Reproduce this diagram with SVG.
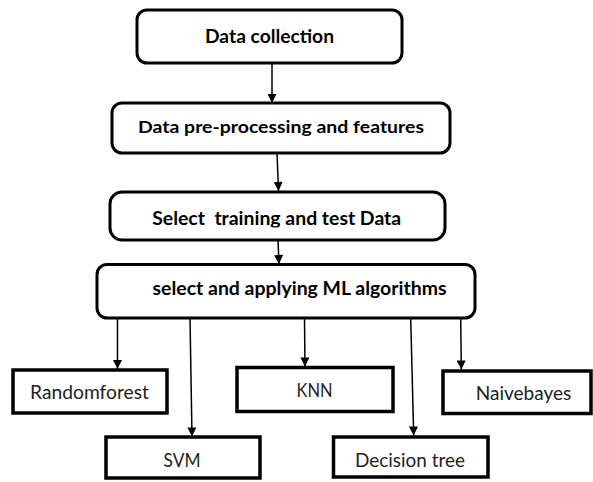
<svg xmlns="http://www.w3.org/2000/svg" width="593" height="482" viewBox="0 0 593 482">
<style>
.rbox{fill:#fff;stroke:#000;stroke-width:3}
.sbox{fill:#fff;stroke:#000;stroke-width:3.5}
.tb{font-family:Lato,"Liberation Sans",sans-serif;font-weight:bold;fill:#000;text-anchor:middle}
.tr{font-family:Lato,"Liberation Sans",sans-serif;fill:#222;text-anchor:middle;font-size:18.5px}
.conn line{stroke:#000;stroke-width:1.5;marker-end:url(#ah)}
</style>
<defs>
<marker id="ah" viewBox="0 0 10 10" refX="10" refY="5" markerWidth="10" markerHeight="9" markerUnits="userSpaceOnUse" orient="auto">
<path d="M0,0 L10,5 L0,10 Z" fill="#000"/>
</marker>
<clipPath id="clip3"><rect x="100" y="180" width="360" height="47.5"/></clipPath>
</defs>
<rect width="593" height="482" fill="#fff"/>
<g class="conn">
<line x1="272" y1="63" x2="272" y2="103"/>
<line x1="277" y1="153" x2="278.5" y2="191"/>
<line x1="278" y1="240" x2="279" y2="264"/>
<line x1="117.5" y1="318" x2="117.5" y2="369"/>
<line x1="190" y1="318" x2="192" y2="436.5"/>
<line x1="304.5" y1="318" x2="305" y2="366.5"/>
<line x1="410.7" y1="318" x2="413.7" y2="435.5"/>
<line x1="460.7" y1="318" x2="461.3" y2="369.5"/>
</g>
<g id="data-collection">
<rect class="rbox" x="137" y="10" width="265" height="53" rx="10"/>
<text class="tb" x="269.5" y="43" font-size="19" textLength="129" lengthAdjust="spacingAndGlyphs">Data collection</text>
</g>
<g id="preprocessing">
<rect class="rbox" x="112" y="103" width="338" height="50" rx="10"/>
<text class="tb" x="281" y="133" font-size="17.5" textLength="286" lengthAdjust="spacingAndGlyphs">Data pre-processing and features</text>
</g>
<g id="select-data">
<rect class="rbox" x="110" y="192" width="335" height="48" rx="12"/>
<text class="tb" x="276.7" y="225" font-size="18" textLength="249" lengthAdjust="spacingAndGlyphs" xml:space="preserve" style="white-space:pre" clip-path="url(#clip3)">Select  training and test Data</text>
</g>
<g id="apply-ml">
<rect class="rbox" x="97" y="264.5" width="378" height="53.5" rx="10"/>
<text class="tb" x="299.5" y="295" font-size="18" textLength="294" lengthAdjust="spacingAndGlyphs">select and applying ML algorithms</text>
</g>
<g id="randomforest">
<rect class="sbox" x="13" y="370" width="154" height="43"/>
<text class="tr" x="89.5" y="399.3" textLength="119" lengthAdjust="spacingAndGlyphs">Randomforest</text>
</g>
<g id="svm">
<rect class="sbox" x="106" y="437" width="154" height="41"/>
<text class="tr" x="182" y="466.7" textLength="37" lengthAdjust="spacingAndGlyphs">SVM</text>
</g>
<g id="knn">
<rect class="sbox" x="237" y="367.5" width="156" height="44"/>
<text class="tr" x="314.5" y="396.7" textLength="36" lengthAdjust="spacingAndGlyphs">KNN</text>
</g>
<g id="decision-tree">
<rect class="sbox" x="333.5" y="437" width="154.5" height="40"/>
<text class="tr" x="410" y="466.7" textLength="110" lengthAdjust="spacingAndGlyphs">Decision tree</text>
</g>
<g id="naivebayes">
<rect class="sbox" x="443" y="371" width="148" height="42.5"/>
<text class="tr" x="523.5" y="400" textLength="95.6" lengthAdjust="spacingAndGlyphs">Naivebayes</text>
</g>
</svg>
